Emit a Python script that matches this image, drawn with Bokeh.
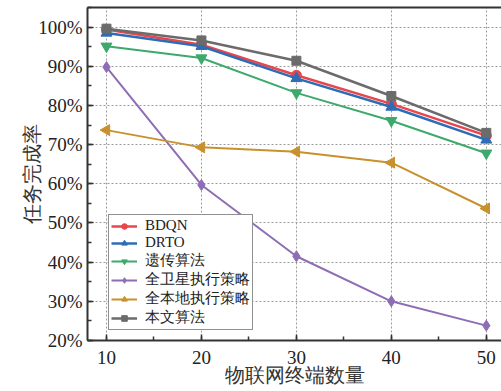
import numpy as np
from bokeh.plotting import figure
from bokeh.models import (Range1d, SingleIntervalTicker, PrintfTickFormatter, LinearAxis,
                          Legend, LegendItem, FixedTicker)
from bokeh.embed import file_html
from bokeh.resources import INLINE

x_vals = [10, 20, 30, 40, 50]
bdqn = [99.4, 95.5, 87.7, 80.4, 72.3]
drto = [98.5, 95.1, 86.9, 79.6, 71.2]
genetic = [95.1, 92.1, 83.2, 76.1, 67.8]
all_sat = [89.8, 59.7, 41.5, 30.0, 23.8]
all_local = [73.7, 69.3, 68.2, 65.4, 53.7]
ours = [99.6, 96.6, 91.4, 82.4, 73.0]

names = ["BDQN", "DRTO", "遗传算法", "全卫星执行策略", "全本地执行策略", "本文算法"]
series = [bdqn, drto, genetic, all_sat, all_local, ours]
colors = ["#E8464C", "#2F6CB6", "#3DA96C", "#8E6DB5", "#C8912D", "#6B6B6B"]
markers = ["circle", "triangle", "inverted_triangle", "diamond", "triangle", "square"]
angles = [0, 0, 0, 0, np.pi / 2, 0]
sizes = [10, 11, 11, 11, 11, 9]
widths = [2.5, 2.5, 2, 2, 2, 2.5]

x_label = "物联网终端数量"
y_label = "任务完成率"

serif = "Liberation Serif"

p = figure(width=501, height=391, output_backend="svg", toolbar_location=None,
           x_range=Range1d(8, 51.6), y_range=Range1d(20, 105),
           min_border_left=87, min_border_right=0, min_border_top=7, min_border_bottom=51)
p.outline_line_color = None
p.background_fill_color = "white"

for ax in (p.xaxis[0], p.yaxis[0]):
    ax.axis_line_width = 2
    ax.axis_line_color = "#333333"
    ax.major_tick_in = 6
    ax.major_tick_out = 0
    ax.minor_tick_in = 4
    ax.minor_tick_out = 0
    ax.major_tick_line_color = "#333333"
    ax.minor_tick_line_color = "#333333"
    ax.major_tick_line_width = 1.5
    ax.minor_tick_line_width = 1.5
    ax.major_label_text_font = serif
    ax.major_label_text_font_size = "19px"
    ax.major_label_text_color = "#222222"
    ax.axis_label_text_font = serif
    ax.axis_label_text_font_size = "20px"
    ax.axis_label_text_font_style = "normal"
    ax.axis_label_text_color = "#333333"

p.xaxis[0].ticker = SingleIntervalTicker(interval=10, num_minor_ticks=2)
p.yaxis[0].ticker = SingleIntervalTicker(interval=10, num_minor_ticks=2)
p.yaxis[0].formatter = PrintfTickFormatter(format="%d%%")
p.xaxis[0].axis_label = x_label
p.yaxis[0].axis_label = y_label
p.xaxis[0].major_label_standoff = 10
p.yaxis[0].major_label_standoff = 5
p.xaxis[0].axis_label_standoff = -3
p.yaxis[0].axis_label_standoff = -8

top = LinearAxis(ticker=FixedTicker(ticks=[]), major_tick_line_color=None,
                 minor_tick_line_color=None, axis_line_width=2, axis_line_color="#333333")
p.add_layout(top, "above")

for g in (p.xgrid[0], p.ygrid[0]):
    g.grid_line_color = "#9a9a9a"
    g.grid_line_dash = "2 2"
    g.grid_line_width = 1

items = []
for name, ys, c, m, a, s, w in zip(names, series, colors, markers, angles, sizes, widths):
    r1 = p.line(x_vals, ys, line_color=c, line_width=w)
    r2 = p.scatter(x_vals, ys, marker=m, size=s, angle=a, fill_color=c, line_color=c)
    items.append(LegendItem(label=name, renderers=[r1, r2]))

legend = Legend(items=items, location=(21, 10), label_text_font=serif,
                label_text_font_size="15px", label_text_color="#222222",
                glyph_width=26, glyph_height=14, label_height=14, spacing=0,
                padding=2, margin=0, label_standoff=8,
                border_line_color="#222222", border_line_width=1,
                background_fill_color="white", background_fill_alpha=1)
p.add_layout(legend, "center")

open("out.html", "w").write(file_html(p, INLINE))
